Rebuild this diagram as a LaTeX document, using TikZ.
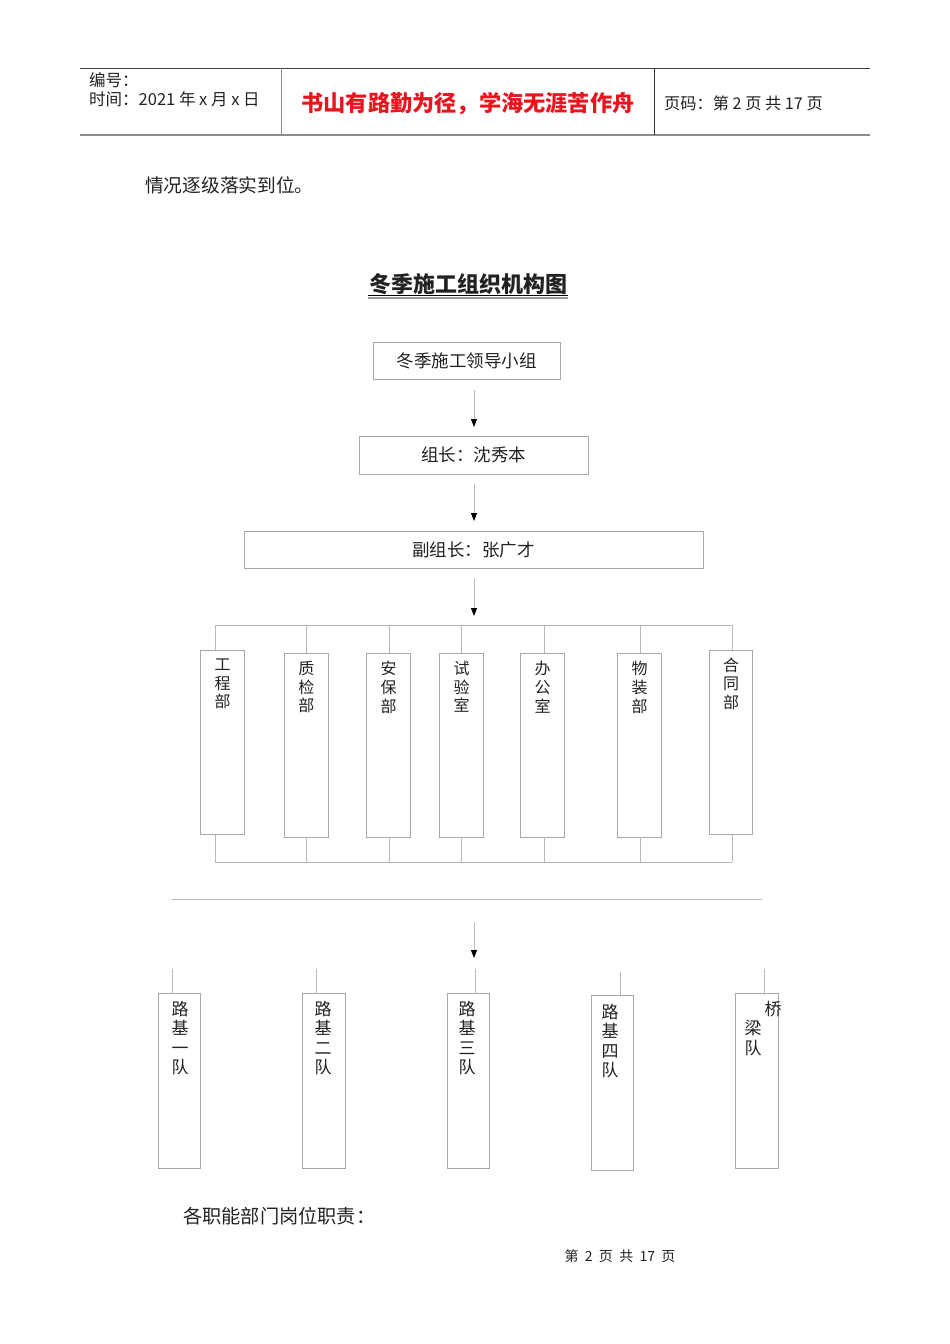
\documentclass[tikz,border=0pt]{standalone}
\usepackage{fontspec}
\setmainfont{Liberation Sans}
\newfontfamily\cjk{Noto Sans CJK SC}
\usetikzlibrary{arrows.meta}
\definecolor{boxgray}{HTML}{A8A8A8}
\definecolor{linegray}{HTML}{B8B8B8}
\definecolor{mottored}{HTML}{E8141E}
\definecolor{txt}{HTML}{222222}
\begin{document}
\begin{tikzpicture}[x=1pt,y=-1pt,
  every node/.style={inner sep=0pt, text=txt},
  fs/.style={font=\cjk\fontsize{#1pt}{#1pt}\selectfont},
  fsb/.style={font=\cjk\bfseries\fontsize{#1pt}{#1pt}\selectfont},
  frame/.style={draw=boxgray, line width=0.9pt},
  conn/.style={draw=linegray, line width=0.9pt},
  arr/.style={draw=linegray, line width=0.9pt, -{Triangle[black,length=8pt,width=6pt]}},
  vdept/.style={anchor=north, align=center, font=\cjk\fontsize{16pt}{18.7pt}\selectfont},
  vteam/.style={anchor=north, align=center, font=\cjk\fontsize{17pt}{19.5pt}\selectfont},
  dbox/.style={frame, minimum width=43.3pt, minimum height=184pt},
  tbox/.style={frame, minimum width=42.7pt, minimum height=175pt}
]
\useasboundingbox (0,0) rectangle (950,1344);
\fill[white] (0,0) rectangle (950,1344);

% ---------- header ----------
\draw[line width=1pt, draw=black!75] (80,68) -- (870,68);
\draw[line width=2pt, draw=black!45] (80,135) -- (870,135);
\draw[line width=1pt, draw=black!45] (281,68) -- (281,135);
\draw[line width=1pt, draw=black!80] (654,68) -- (654,135);
\node[fs=16.5, anchor=west] (bianhao) at (89,80) {编号：};
\node[fs=16.5, anchor=west] (shijian) at (89,99) {时间：2021 年 x 月 x 日};
\node[fsb=22.2, text=mottored] (motto) at (468,104) {书山有路勤为径，学海无涯苦作舟};
\node[fs=16.2, anchor=west] (yema) at (664,103) {页码：第 2 页\ 共 17 页};

% ---------- intro ----------
\node[fs=18.7, anchor=west] (intro) at (145,185) {情况逐级落实到位。};

% ---------- title ----------
\node[fsb=22] (title) at (468,284) {冬季施工组织机构图};
\draw[line width=0.8pt, black] (368,295.5) -- (568,295.5);
\draw[line width=1.6pt, black!40] (368,298) -- (568,298);

% ---------- top chain ----------
\node[frame, fs=17.5, minimum width=187pt, minimum height=37pt] (lead) at (466.5,360.5) {冬季施工领导小组};
\node[frame, fs=17.5, minimum width=229pt, minimum height=38pt] (zuzhang) at (473.5,455) {组长：沈秀本};
\node[frame, fs=17.5, minimum width=459pt, minimum height=37pt] (fuzu) at (473.5,549.5) {副组长：张广才};

\coordinate (a1s) at (474,390); \coordinate (a1e) at (474,427);
\coordinate (a2s) at (474,484); \coordinate (a2e) at (474,521);
\coordinate (a3s) at (474,578); \coordinate (a3e) at (474,616);
\draw[arr] (a1s) -- (a1e);
\draw[arr] (a2s) -- (a2e);
\draw[arr] (a3s) -- (a3e);

% ---------- departments ----------
\coordinate (busTL) at (215,625);  \coordinate (busTR) at (732,625);
\coordinate (busBL) at (215,862);  \coordinate (busBR) at (732,862);
\draw[conn] (busTL) -- (busTR);
\draw[conn] (busBL) -- (busBR);

\node[dbox] (d1) at (222.5,742.2) {};
\node[dbox] (d2) at (306.4,745) {};
\node[dbox] (d3) at (388.5,745) {};
\node[dbox] (d4) at (461.5,745) {};
\node[dbox] (d5) at (542.5,745) {};
\node[dbox] (d6) at (639.5,745) {};
\node[dbox] (d7) at (731.2,742.2) {};

\node[vdept] (d1t) at (222.5,658.5) {工\\程\\部};
\node[vdept] (d2t) at (306.4,661) {质\\检\\部};
\node[vdept] (d3t) at (388.5,661) {安\\保\\部};
\node[vdept] (d4t) at (461.5,661) {试\\验\\室};
\node[vdept] (d5t) at (542.5,661) {办\\公\\室};
\node[vdept] (d6t) at (639.5,661) {物\\装\\部};
\node[vdept] (d7t) at (731.2,657.5) {合\\同\\部};

\foreach \n/\x in {1/215,2/306.9,3/389.7,4/461.7,5/544.9,6/640.8,7/732}{
  \coordinate (v\n) at (\x,625);
  \draw[conn] (v\n) -- (v\n |- d\n.north);
  \draw[conn] (v\n |- d\n.south) -- (v\n |- busBL);
}

% ---------- separator & arrow ----------
\coordinate (sepL) at (172,899); \coordinate (sepR) at (762,899);
\draw[conn] (sepL) -- (sepR);
\coordinate (a4s) at (474,922); \coordinate (a4e) at (474,958);
\draw[arr] (a4s) -- (a4e);

% ---------- teams ----------
\node[tbox] (t1) at (179.5,1080.8) {};
\node[tbox] (t2) at (324,1080.8) {};
\node[tbox] (t3) at (468.5,1080.8) {};
\node[tbox] (t4) at (612.5,1083.3) {};
\node[tbox] (t5) at (756.9,1080.8) {};

\coordinate (s1) at (172,969);
\coordinate (s2) at (316.7,969);
\coordinate (s3) at (475,969);
\coordinate (s4) at (620,971.7);
\coordinate (s5) at (764.2,969);
\draw[conn] (s1) -- (s1 |- t1.north);
\draw[conn] (s2) -- (s2 |- t2.north);
\draw[conn] (s3) -- (s3 |- t3.north);
\draw[conn] (s4) -- (s4 |- t4.north);
\coordinate (s5e) at (764.2,995);
\draw[conn] (s5) -- (s5e);

\node[vteam] (t1t) at (180,1000.5) {路\\基\\一\\队};
\node[vteam] (t2t) at (323,1000.5) {路\\基\\二\\队};
\node[vteam] (t3t) at (467,1000.5) {路\\基\\三\\队};
\node[vteam] (t4t) at (610,1003.5) {路\\基\\四\\队};
\node[fs=17] (qiao) at (773,1009) {桥};
\node[vteam] (t5t) at (753,1020.5) {梁\\队};

% ---------- bottom text ----------
\node[fs=19.2, anchor=west] (zhize) at (183,1216) {各职能部门岗位职责：};
\node[fs=14] (footer) at (620,1256) {第\ \ 2\ \ 页\ \ 共\ \ 17\ \ 页};
\end{tikzpicture}
\end{document}
